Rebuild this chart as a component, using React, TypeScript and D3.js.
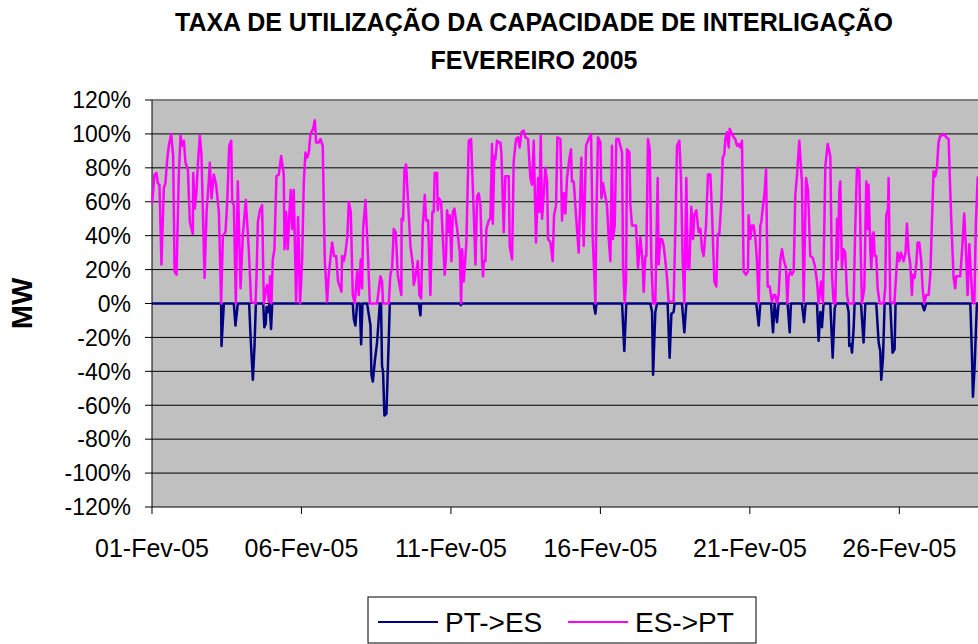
import React from 'react'
import * as d3 from 'd3'

// hours since 01-Feb-05 00:00, percent of interconnection capacity
type TPoint = [number, number]

const titleLines = ['TAXA DE UTILIZAÇÃO DA CAPACIDADE DE INTERLIGAÇÃO', 'FEVEREIRO 2005']
const yAxisTitle = 'MW'
const xTickHours = [0, 120, 240, 360, 480, 600]
const xTickLabels = ['01-Fev-05', '06-Fev-05', '11-Fev-05', '16-Fev-05', '21-Fev-05', '26-Fev-05']
const yTickValues = [-120, -100, -80, -60, -40, -20, 0, 20, 40, 60, 80, 100, 120]
const seriesNames = ['PT->ES', 'ES->PT']

const ptEs: TPoint[] = [
  [0, 0], [55.5, 0], [55.8, -25], [57.7, 0], [65.7, 0], [67.0, -13], [68.9, 0], [78.0, 0], [79.1, -19],
  [81.0, -45], [82.3, -25], [83.4, 0], [89.3, 0], [90.2, -14], [91.3, -12], [92.0, -2], [93.2, -5], [94.3, 0],
  [95.6, -15], [96.5, 0], [161.2, 0], [162.0, -9], [163.3, -13], [164.7, 0], [166.8, 0], [167.9, -24],
  [169.0, 0], [172.7, 0], [175.4, -13], [176.2, -42], [177.3, -46], [178.9, -34], [180.7, -23], [182.9, 0],
  [183.9, 0], [184.7, -37], [185.5, -40], [186.6, -66], [188.2, -65], [190.1, -21], [190.9, 0], [214.2, 0],
  [215.5, -7], [216.0, 0], [247.1, 0], [247.9, -1], [249.0, 0], [354.6, 0], [356.0, -6], [356.8, 0],
  [377.4, 0], [379.2, -28], [380.8, 0], [400.1, 0], [401.5, -5], [402.3, -42], [404.1, -5], [405.5, 0],
  [414.0, 0], [415.6, -32], [417.0, -6], [418.8, -5], [419.6, 0], [425.5, 0], [427.4, -17], [429.0, 0],
  [485.2, 0], [487.1, -13], [488.4, 0], [497.0, 0], [498.6, -17], [499.9, 0], [501.8, -11], [503.1, 0],
  [510.3, 0], [512.0, -17], [513.0, 0], [521.8, 0], [523.5, -11], [524.8, 0], [533.9, 0], [535.2, -22],
  [536.6, -5], [537.9, -14], [539.2, 0], [544.6, 0], [546.5, -32], [548.1, -3], [549.1, 0], [558.0, 0],
  [559.3, -5], [559.8, -25], [561.2, -24], [562.0, -29], [563.3, -15], [564.1, 0], [569.2, 0], [571.3, -23],
  [572.7, 0], [581.5, 0], [583.4, -23], [584.7, -28], [585.5, -45], [586.9, -32], [588.2, 0], [592.7, 0],
  [594.6, -29], [596.2, -27], [597.0, 0], [618.2, 0], [620.0, -4], [621.6, 0], [657.0, 0], [658.3, -30],
  [659.1, -55], [660.4, -38], [662.3, 0], [672, 0],
]

const esPt: TPoint[] = [
  [0.1, 59], [2.0, 76], [3.6, 77], [4.7, 71], [6.0, 70], [7.6, 23], [9.5, 68], [10.8, 71], [12.2, 85],
  [13.5, 93], [15.4, 100], [17.0, 87], [18.1, 19], [19.7, 17], [21.5, 75], [22.9, 99], [24.2, 93], [25.6, 96],
  [26.9, 83], [28.8, 79], [30.4, 48], [32.8, 41], [33.1, 77], [34.4, 56], [35.7, 66], [36.8, 82], [38.4, 99],
  [39.7, 88], [42.2, 15], [43.8, 54], [45.6, 72], [46.4, 83], [47.8, 62], [49.6, 76], [51.5, 70], [53.7, 54],
  [55.5, 0], [56.9, 40], [59.0, 42], [60.4, 60], [62.0, 93], [63.6, 96], [64.4, 60], [65.7, 58], [67.3, 0],
  [68.9, 72], [71.1, 9], [72.9, 40], [75.3, 61], [77.7, 32], [79.6, 1], [83.1, 0], [83.9, 16], [85.0, 48],
  [86.6, 55], [88.4, 58], [89.8, 0],
  [91.1, 7], [92.4, 11], [93.8, 1], [94.8, 16], [95.9, 0], [97.0, 26], [98.3, 32], [99.9, 75], [101.8, 76],
  [103.7, 87], [105.8, 76], [106.4, 32], [107.7, 54], [109.0, 32], [110.4, 55], [111.4, 67], [112.5, 44],
  [113.8, 67], [115.7, 1], [117.3, 51], [118.9, 0], [120.5, 25], [121.9, 72], [123.2, 89], [124.6, 86],
  [125.9, 89], [127.2, 100], [129.4, 103], [130.7, 108], [131.8, 95], [133.9, 95], [135.3, 97], [137.1, 93],
  [138.7, 26], [140.6, 1], [141.9, 17], [144.6, 36], [146.2, 28], [147.8, 28], [149.4, 13], [152.1, 7],
  [152.6, 28], [154.0, 25], [155.3, 30], [156.9, 40], [158.0, 60], [159.6, 54], [161.2, 5], [162.8, 0],
  [164.7, 19], [166.0, 5], [167.6, 26], [168.7, 9], [169.5, 44], [171.4, 61], [173.3, 30], [174.9, 0],
  [180.7, 0],
  [183.4, 16], [184.7, 13], [185.5, 0], [190.1, 0], [191.4, 17], [192.8, 21], [194.1, 44], [195.7, 42],
  [197.3, 17], [198.7, 11], [200.2, 5], [200.4, 50], [201.6, 49], [202.7, 79], [204.0, 82], [205.3, 64],
  [207.5, 34], [209.4, 23], [210.2, 11], [211.8, 17], [213.4, 25], [214.7, 5], [216.1, 3], [217.4, 46],
  [219.0, 64], [220.1, 49], [221.7, 49], [223.5, 5], [225.1, 54], [226.2, 54], [227.0, 77], [228.9, 77],
  [229.4, 55], [230.5, 62], [232.1, 60], [235.0, 17], [236.1, 28], [236.9, 55], [238.3, 42], [239.1, 52],
  [240.4, 25], [241.5, 54], [242.8, 56], [245.0, 44], [247.1, 30], [248.2, 0], [249.0, 32], [250.3, 13],
  [252.4, 36], [254.3, 96], [256.2, 97], [258.3, 54], [259.7, 23], [261.0, 63], [262.3, 65], [263.7, 58],
  [265.0, 25], [265.8, 16], [266.4, 25], [267.7, 25], [268.5, 44], [270.4, 49], [271.7, 50], [273.0, 94],
  [273.6, 47], [274.9, 87],
  [275.7, 85], [277.0, 96], [278.4, 95], [279.7, 95], [280.5, 89], [282.4, 42], [283.7, 75], [286.4, 75],
  [287.2, 34], [289.1, 26], [290.4, 84], [292.3, 97], [293.9, 98], [295.2, 92], [296.6, 101], [298.4, 102],
  [299.8, 98], [301.9, 97], [303.8, 74], [305.1, 70], [306.5, 96], [307.3, 68], [308.3, 36], [310.0, 74],
  [311.0, 54], [312.1, 99], [313.2, 50], [314.5, 64], [315.8, 80], [317.2, 72], [318.0, 38], [319.9, 36],
  [321.7, 25], [322.8, 52], [324.4, 58], [325.5, 98], [327.9, 97], [329.2, 49], [330.6, 65], [331.9, 53],
  [333.2, 74], [335.4, 87], [336.4, 91], [337.2, 72], [338.6, 72], [340.7, 49], [342.6, 30], [344.7, 86],
  [346.6, 34], [348.5, 93], [350.6, 97], [352.5, 100], [353.8, 40], [356.0, 0], [356.8, 52], [358.1, 98],
  [360.0, 95], [360.8, 62], [362.1, 71], [364.0, 63], [365.3, 58], [366.7, 38], [368.0, 25],
  [369.3, 93], [370.1, 38], [371.5, 46], [372.8, 97], [374.7, 97], [376.0, 93], [377.4, 89], [378.2, 23],
  [379.5, 0], [380.6, 13], [381.4, 91], [383.3, 89], [384.1, 58], [385.4, 46], [386.7, 46], [388.6, 46],
  [390.2, 21], [392.1, 39], [393.7, 26], [394.8, 7], [396.1, 28], [396.9, 28], [398.2, 97], [399.6, 91],
  [400.9, 25], [402.3, 0], [404.1, 0], [406.0, 74], [406.8, 23], [408.1, 38], [409.5, 38], [410.8, 34],
  [412.2, 25], [413.5, 15], [414.8, 1], [418.8, 1], [420.2, 44], [421.5, 93], [423.4, 96], [424.7, 74],
  [426.1, 25], [427.4, 0], [429.0, 74], [430.1, 21], [431.4, 20], [433.0, 57], [434.4, 38], [435.4, 52],
  [437.0, 55], [438.9, 42], [440.3, 44], [441.6, 32], [442.9, 28], [444.8, 46], [446.4, 76], [448.3, 76],
  [449.6, 54], [451.5, 13], [453.1, 10], [454.2, 41], [455.5, 41], [457.1, 60], [458.2, 86], [459.5, 88],
  [460.3, 97],
  [461.6, 101], [463.0, 92], [463.8, 103], [465.7, 100], [467.0, 98], [468.3, 97], [469.7, 93], [471.0, 94],
  [472.3, 92], [473.7, 96], [475.0, 19], [476.9, 17], [478.5, 19], [479.0, 52], [480.4, 38], [481.7, 46],
  [483.0, 46], [484.4, 39], [485.7, 25], [487.1, 0], [488.4, 46], [489.2, 48], [490.3, 56], [491.9, 66],
  [493.0, 79], [494.3, 10], [495.9, 10], [497.8, 1], [499.1, 5], [500.4, 5], [501.8, 0], [503.1, 5],
  [504.5, 26], [505.8, 32], [507.1, 26], [507.9, 24], [509.0, 21], [510.1, 0], [511.1, 16], [512.5, 19],
  [513.8, 17], [515.2, 19], [516.5, 64], [517.8, 75], [519.7, 96], [521.8, 72], [523.2, 1], [525.1, 74],
  [526.7, 67], [528.5, 28], [530.4, 27], [532.0, 23], [533.9, 13], [535.2, 0], [537.1, 13], [538.7, 0],
  [540.6, 81], [542.5, 94], [544.6, 87], [545.9, 17], [547.3, 0], [548.6, 0], [550.0, 50], [550.7, 26],
  [551.8, 66],
  [552.6, 72], [553.9, 21], [555.3, 32], [556.6, 30], [558.0, 5], [559.3, 0], [563.3, 0], [564.6, 44],
  [566.0, 80], [567.9, 78], [569.2, 25], [570.0, 0], [571.9, 9], [573.5, 72], [574.5, 44], [575.3, 70],
  [576.7, 32], [577.5, 21], [578.6, 40], [579.4, 42], [580.2, 28], [581.5, 28], [582.6, 9], [584.2, 0],
  [587.4, 0], [588.7, 9], [589.5, 52], [590.9, 56], [591.4, 74], [592.7, 1], [596.0, 0], [597.3, 15],
  [598.6, 30], [600.0, 25], [601.3, 30], [603.4, 25], [605.0, 30], [606.1, 47], [607.5, 30], [608.8, 23],
  [610.1, 5], [610.9, 17], [612.3, 15], [613.6, 23], [614.7, 36], [616.0, 36], [617.6, 25], [618.7, 9],
  [620.0, 0], [621.6, 5], [623.5, 5], [624.9, 17], [626.2, 48], [627.5, 78], [628.9, 75], [630.2, 80],
  [631.5, 95], [632.9, 99], [634.2, 99], [635.6, 100], [637.7, 98], [639.6, 97], [640.9, 66], [642.2, 40],
  [643.6, 15], [644.9, 9], [645.7, 16], [647.6, 16], [648.9, 16], [650.8, 36], [652.1, 53], [653.5, 32],
  [654.8, 5], [656.2, 35], [657.5, 17], [658.8, 1], [660.2, 0], [661.5, 48], [662.9, 74], [663.4, 75],
]

const W = 978
const H = 644
const margin = { left: 152, top: 100, right: 989, bottom: 507 }
const font = "'Liberation Sans', Arial, sans-serif"
const navy = '#000080'
const magenta = '#FF00FF'

const App = (): JSX.Element => {
  const x = d3.scaleLinear().domain([0, 672]).range([margin.left, margin.right])
  const y = d3.scaleLinear().domain([-120, 120]).range([margin.bottom, margin.top])
  const line = d3
    .line<TPoint>()
    .x(d => x(d[0]))
    .y(d => y(d[1]))

  return (
    <svg
      width={W}
      height={H}
      style={{ position: 'absolute', left: 0, top: 0, background: '#fff' }}
      fontFamily={font}
    >
      {/* title */}
      {titleLines.map((t, i) => (
        <text key={t} x={534} y={31 + i * 38} textAnchor='middle' fontWeight='bold' fontSize={25}>
          {t}
        </text>
      ))}

      {/* plot area */}
      <rect
        x={margin.left}
        y={margin.top}
        width={margin.right - margin.left}
        height={margin.bottom - margin.top}
        fill='#C0C0C0'
      />
      <line x1={margin.left} x2={margin.right} y1={y(120)} y2={y(120)} stroke='#808080' strokeWidth={2} />
      {yTickValues
        .filter(v => v > -120 && v < 120)
        .map(v => (
          <line key={v} x1={margin.left} x2={margin.right} y1={y(v)} y2={y(v)} stroke='#000' strokeWidth={1} />
        ))}

      {/* axes */}
      <line x1={margin.left} x2={margin.left} y1={margin.top} y2={margin.bottom} stroke='#000' />
      <line x1={margin.left} x2={margin.right} y1={margin.bottom} y2={margin.bottom} stroke='#000' />
      {yTickValues.map(v => (
        <g key={v}>
          <line x1={margin.left - 7} x2={margin.left} y1={y(v)} y2={y(v)} stroke='#000' />
          <text x={131} y={y(v)} dy='0.36em' textAnchor='end' fontSize={23}>
            {v + '%'}
          </text>
        </g>
      ))}
      {xTickHours.map((h, i) => (
        <g key={h}>
          <line x1={x(h)} x2={x(h)} y1={margin.bottom} y2={margin.bottom + 7} stroke='#000' />
          <text x={x(h)} y={557} textAnchor='middle' fontSize={25}>
            {xTickLabels[i]}
          </text>
        </g>
      ))}
      <text
        transform={`translate(32,${y(0)}) rotate(-90)`}
        textAnchor='middle'
        fontWeight='bold'
        fontSize={29}
      >
        {yAxisTitle}
      </text>

      {/* series */}
      <path d={line(ptEs) || ''} fill='none' stroke={navy} strokeWidth={2.5} strokeLinejoin='round' />
      <path d={line(esPt) || ''} fill='none' stroke={magenta} strokeWidth={2.5} strokeLinejoin='round' />

      {/* legend */}
      <rect x={368} y={597} width={388} height={46} fill='#fff' stroke='#000' />
      {[navy, magenta].map((c, i) => (
        <g key={c} transform={`translate(${378 + i * 190},622)`}>
          <line x1={0} x2={60} y1={0} y2={0} stroke={c} strokeWidth={2} />
          <text x={67} y={0} dy='0.36em' fontSize={28}>
            {seriesNames[i]}
          </text>
        </g>
      ))}
    </svg>
  )
}

export default App
